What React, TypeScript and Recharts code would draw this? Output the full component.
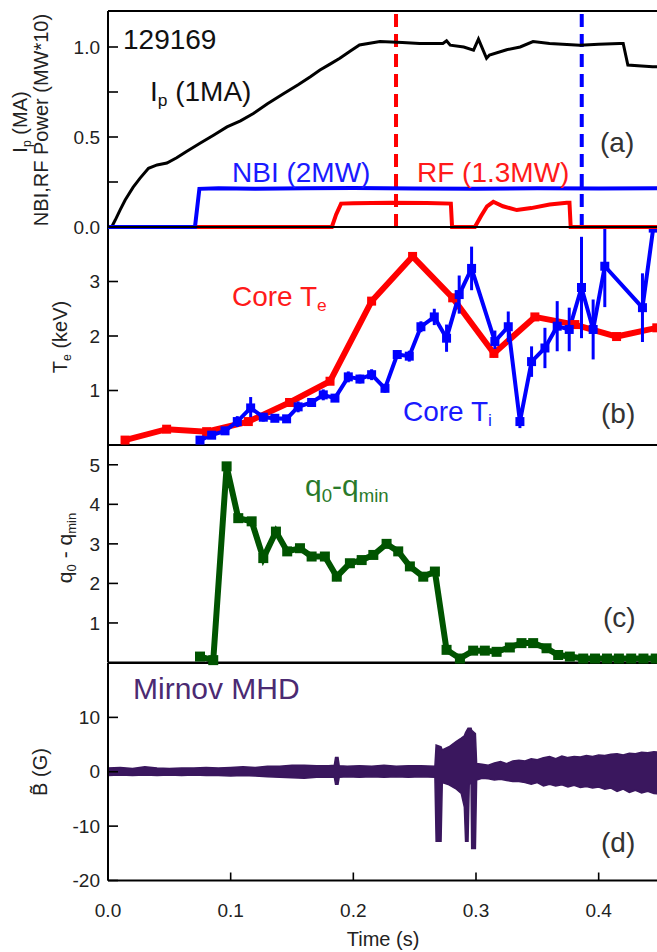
import React from 'react';
import { ComposedChart, Line, Area, XAxis, YAxis, ReferenceLine, ErrorBar } from 'recharts';

const FONT = '"Liberation Sans", Arial, Helvetica, sans-serif';

// ---------- Panel (a): plasma current and heating power ----------
const ipTime = [0.0, 0.003, 0.006, 0.0098, 0.014, 0.0204, 0.026, 0.033, 0.04, 0.048, 0.056, 0.064, 0.075, 0.086, 0.097, 0.108, 0.1185, 0.13, 0.143, 0.155, 0.165, 0.1728, 0.181, 0.189, 0.197, 0.205, 0.2217, 0.24, 0.254, 0.273, 0.276, 0.279, 0.29, 0.298, 0.302, 0.3086, 0.311, 0.325, 0.336, 0.3465, 0.36, 0.3847, 0.4, 0.417, 0.42, 0.4238, 0.435, 0.444, 0.45];
const ipValue = [0.0, 0.0, 0.04, 0.094, 0.15, 0.22, 0.27, 0.326, 0.345, 0.355, 0.385, 0.42, 0.465, 0.51, 0.556, 0.59, 0.63, 0.685, 0.74, 0.79, 0.835, 0.872, 0.905, 0.937, 0.975, 1.011, 1.03, 1.025, 1.02, 1.02, 1.035, 1.01, 1.0, 0.983, 1.044, 0.937, 0.955, 0.985, 1.0, 1.03, 1.02, 1.01, 1.015, 1.02, 1.02, 0.9, 0.895, 0.89, 0.89];

const nbiTime = [0.0, 0.0709, 0.0745, 0.09, 0.12, 0.16, 0.2, 0.25, 0.3, 0.35, 0.4, 0.45];
const nbiValue = [0.0, 0.0, 0.212, 0.215, 0.213, 0.215, 0.216, 0.214, 0.213, 0.215, 0.214, 0.215];

const rfTime = [0.0, 0.1825, 0.186, 0.19, 0.2, 0.23, 0.26, 0.2795, 0.2805, 0.2991, 0.304, 0.309, 0.3141, 0.322, 0.3333, 0.345, 0.36, 0.374, 0.3762, 0.3772, 0.45];
const rfValue = [0.0, 0.0, 0.07, 0.13, 0.132, 0.135, 0.133, 0.13, 0.0, 0.0, 0.06, 0.115, 0.14, 0.115, 0.094, 0.105, 0.125, 0.135, 0.135, 0.0, 0.0];

const rfMarkTime = 0.2348;
const nbiMarkTime = 0.3862;

// ---------- Panel (b): core temperatures ----------
const teTime = [0.0139, 0.0478, 0.0804, 0.1144, 0.148, 0.181, 0.2149, 0.2483, 0.281, 0.3146, 0.348, 0.3806, 0.4146, 0.4474];
const teValue = [0.09, 0.29, 0.245, 0.43, 0.78, 1.17, 2.64, 3.46, 2.7, 1.68, 2.35, 2.21, 1.99, 2.15];

const tiTime = [0.075, 0.0845, 0.0954, 0.1054, 0.1163, 0.1266, 0.136, 0.1456, 0.155, 0.166, 0.1755, 0.185, 0.1959, 0.2054, 0.2149, 0.2258, 0.2358, 0.2456, 0.2551, 0.266, 0.276, 0.2863, 0.2964, 0.3154, 0.3263, 0.3358, 0.3453, 0.3562, 0.3662, 0.376, 0.386, 0.3955, 0.405, 0.4357, 0.4445];
const tiValue = [0.09, 0.18, 0.26, 0.43, 0.68, 0.51, 0.49, 0.48, 0.7, 0.78, 0.92, 0.86, 1.25, 1.21, 1.29, 1.04, 1.66, 1.63, 2.17, 2.35, 1.96, 2.76, 3.24, 1.9, 2.17, 0.43, 1.53, 1.78, 2.18, 2.12, 2.89, 2.12, 3.28, 2.52, 3.98];
const tiError = [0.05, 0.05, 0.06, 0.1, 0.2, 0.08, 0.06, 0.06, 0.1, 0.08, 0.1, 0.06, 0.1, 0.08, 0.1, 0.08, 0.08, 0.1, 0.1, 0.15, 0.25, 0.35, 0.4, 0.2, 0.28, 0.12, 0.28, 0.37, 0.46, 0.4, 0.93, 0.55, 0.75, 0.63, 0];

// ---------- Panel (c): q0 - qmin ----------
const qTime = [0.075, 0.0858, 0.0967, 0.1062, 0.1171, 0.1266, 0.1369, 0.1461, 0.1565, 0.166, 0.1768, 0.1865, 0.1972, 0.2068, 0.2163, 0.2271, 0.2366, 0.2461, 0.257, 0.2665, 0.276, 0.2869, 0.2977, 0.3072, 0.3168, 0.3276, 0.3371, 0.3466, 0.3575, 0.367, 0.3765, 0.3874, 0.397, 0.4068, 0.4165, 0.4265, 0.4365, 0.4465];
const qValue = [0.15, 0.06, 4.96, 3.65, 3.57, 2.64, 3.31, 2.81, 2.89, 2.68, 2.68, 2.17, 2.51, 2.59, 2.72, 3.0, 2.81, 2.43, 2.17, 2.3, 0.32, 0.1, 0.3, 0.3, 0.27, 0.38, 0.49, 0.49, 0.36, 0.19, 0.15, 0.1, 0.1, 0.1, 0.1, 0.1, 0.1, 0.1];

// ---------- Panel (d): Mirnov MHD envelope ----------
const mhdTime = [0.0, 0.01, 0.02, 0.03, 0.04, 0.05, 0.06, 0.07, 0.08, 0.09, 0.1, 0.11, 0.12, 0.13, 0.14, 0.15, 0.16, 0.17, 0.18, 0.1845, 0.1855, 0.1875, 0.1885, 0.195, 0.205, 0.215, 0.225, 0.235, 0.245, 0.255, 0.2665, 0.2675, 0.2715, 0.2725, 0.278, 0.284, 0.288, 0.2905, 0.2915, 0.2935, 0.2945, 0.296, 0.2965, 0.2995, 0.3005, 0.305, 0.31, 0.315, 0.32, 0.325, 0.33, 0.335, 0.34, 0.345, 0.35, 0.355, 0.36, 0.365, 0.37, 0.375, 0.38, 0.385, 0.39, 0.395, 0.4, 0.405, 0.41, 0.415, 0.42, 0.425, 0.43, 0.435, 0.44, 0.445, 0.45];
const mhdLow = [-0.7, -0.6, -0.7, -0.6, -0.7, -0.6, -0.7, -0.6, -0.7, -0.7, -0.8, -0.7, -0.8, -0.9, -1.0, -1.1, -1.2, -1.0, -1.0, -1.0, -2.3, -2.3, -1.0, -0.9, -1.0, -0.9, -1.0, -0.9, -1.0, -0.9, -1.0, -12.8, -12.8, -2.0, -2.4, -3.2, -4.0, -6.5, -12.8, -12.8, -2.2, -2.2, -14.1, -14.1, -1.5, -1.2, -1.3, -1.5, -1.4, -1.6, -1.8, -1.8, -2.0, -2.3, -2.0, -2.6, -2.3, -2.6, -2.4, -2.8, -2.5, -2.9, -2.7, -3.0, -2.8, -3.2, -3.0, -3.6, -3.2, -3.8, -3.4, -3.9, -3.6, -4.0, -4.1];
const mhdHigh = [0.7, 0.8, 0.6, 0.9, 0.7, 0.6, 0.7, 0.7, 0.8, 0.7, 0.8, 0.9, 0.8, 1.0, 1.0, 1.2, 1.2, 1.1, 1.1, 1.2, 2.6, 2.6, 1.1, 1.0, 1.1, 1.0, 1.2, 1.0, 1.1, 1.1, 1.0, 4.9, 4.6, 4.0, 4.6, 5.6, 6.2, 6.6, 7.2, 8.0, 8.0, 8.0, 7.6, 7.0, 1.5, 1.4, 1.2, 1.6, 1.9, 1.5, 2.0, 2.1, 2.0, 2.4, 2.2, 2.6, 2.8, 2.4, 2.9, 2.6, 2.8, 2.7, 3.0, 2.8, 3.1, 3.0, 3.2, 3.3, 3.1, 3.4, 3.3, 3.6, 3.5, 3.7, 3.6];

// ---------- axes ----------
const xTicks = [0.0, 0.1, 0.2, 0.3, 0.4];
const aTicks = [0, 0.25, 0.5, 0.75, 1.0];
const aLabeled = [0, 0.5, 1.0];
const bTicks = [1, 2, 3];
const cTicks = [1, 2, 3, 4, 5];
const dTicks = [-20, -10, 0, 10];

const ipData = ipTime.map((t, i) => ({ t, v: ipValue[i] }));
const nbiData = nbiTime.map((t, i) => ({ t, v: nbiValue[i] }));
const rfData = rfTime.map((t, i) => ({ t, v: rfValue[i] }));
const teData = teTime.map((t, i) => ({ t, v: teValue[i] }));
const tiData = tiTime.map((t, i) => ({ t, v: tiValue[i], e: tiError[i] }));
const qData = qTime.map((t, i) => ({ t, v: qValue[i] }));
const mhdData = mhdTime.map((t, i) => ({ t, b: [mhdLow[i], mhdHigh[i]] }));

const tickStyle = { fill: '#222', fontSize: 19, fontFamily: FONT };
const axisLineStyle = { stroke: '#000', strokeWidth: 2 };
const tickLineStyle = { stroke: '#000', strokeWidth: 1.6 };

const squareDot = (color: string, s: number) => (props: any) => {
  const { cx, cy, index } = props;
  if (cx == null || cy == null || isNaN(cx) || isNaN(cy)) return <g key={`n${index}`} />;
  return <rect key={`d${index}`} x={cx - s / 2} y={cy - s / 2} width={s} height={s} fill={color} />;
};

type PanelProps = {
  top: number;
  plotH: number;
  domain: [number, number];
  ticks: number[];
  fmt: (v: number) => string;
  overflow?: boolean;
  xLabels?: boolean;
  children: React.ReactNode;
};

function Panel({ top, plotH, domain, ticks, fmt, overflow, xLabels, children }: PanelProps) {
  const mt = 15;
  const mb = xLabels ? 70 : 15;
  const height = plotH + mt + mb + 2;
  return (
    <div style={{ position: 'absolute', left: 0, top: top - mt - 1 }}>
      <ComposedChart width={700} height={height} margin={{ top: mt, right: 39, bottom: mb, left: 107 }}>
        <XAxis
          xAxisId="b"
          type="number"
          dataKey="t"
          domain={[0, 0.45]}
          allowDataOverflow
          ticks={xLabels ? xTicks : xTicks.slice(1)}
          interval={0}
          height={1}
          tickSize={-8}
          tickMargin={31}
          tick={xLabels ? tickStyle : false}
          tickFormatter={(v: number) => v.toFixed(1)}
          axisLine={axisLineStyle}
          tickLine={tickLineStyle}
        />
        <XAxis
          xAxisId="t"
          orientation="top"
          type="number"
          dataKey="t"
          domain={[0, 0.45]}
          allowDataOverflow
          ticks={xTicks.slice(1)}
          interval={0}
          height={1}
          tickSize={-8}
          tick={false}
          axisLine={axisLineStyle}
          tickLine={tickLineStyle}
        />
        <YAxis
          yAxisId="l"
          type="number"
          domain={domain}
          allowDataOverflow={!!overflow}
          ticks={ticks}
          interval={0}
          width={1}
          tickSize={-10}
          tickMargin={18}
          tick={tickStyle}
          tickFormatter={fmt}
          axisLine={axisLineStyle}
          tickLine={tickLineStyle}
        />
        <YAxis
          yAxisId="r"
          orientation="right"
          type="number"
          domain={domain}
          allowDataOverflow
          ticks={ticks}
          interval={0}
          width={1}
          tickSize={-10}
          tick={false}
          axisLine={false}
          tickLine={tickLineStyle}
        />
        {children}
      </ComposedChart>
    </div>
  );
}

const Sub = ({ children }: { children: React.ReactNode }) => (
  <span style={{ fontSize: '0.62em', position: 'relative', top: '0.3em' }}>{children}</span>
);

const Txt = ({ x, y, size, color, children, anchor = 'start' }: any) => (
  <div
    style={{
      position: 'absolute',
      left: x,
      top: y,
      transform: `translate(${anchor === 'middle' ? '-50%' : anchor === 'end' ? '-100%' : '0'}, -50%)`,
      fontSize: size,
      color,
      fontFamily: FONT,
      lineHeight: 1,
      whiteSpace: 'nowrap',
    }}
  >
    {children}
  </div>
);

const VTxt = ({ x, y, size, color = '#222', children }: any) => (
  <div
    style={{
      position: 'absolute',
      left: x,
      top: y,
      transform: 'translate(-50%, -50%) rotate(-90deg)',
      fontSize: size,
      color,
      fontFamily: FONT,
      lineHeight: 1,
      whiteSpace: 'nowrap',
    }}
  >
    {children}
  </div>
);

export default function App() {
  return (
    <div style={{ position: 'absolute', left: 0, top: 0, width: 657, height: 952, overflow: 'hidden', background: '#fff' }}>
      <Panel top={662.5} plotH={217.5} domain={[-20, 20]} ticks={dTicks} fmt={(v) => String(v)} xLabels>
        <Area
          xAxisId="b"
          yAxisId="l"
          data={mhdData}
          dataKey="b"
          type="linear"
          stroke="#3a175e"
          strokeWidth={1.5}
          fill="#3a175e"
          fillOpacity={1}
          dot={false}
          activeDot={false}
          isAnimationActive={false}
        />
      </Panel>
      <Panel top={445} plotH={217.5} domain={[0, 5.5]} ticks={cTicks} fmt={(v) => String(v)}>
        <Line
          xAxisId="b"
          yAxisId="l"
          data={qData}
          dataKey="v"
          stroke="#005400"
          strokeWidth={6}
          dot={squareDot('#005400', 10)}
          activeDot={false}
          isAnimationActive={false}
        />
      </Panel>
      <Panel top={227} plotH={218} domain={[0, 4]} ticks={bTicks} fmt={(v) => String(v)} overflow>
        <Line
          xAxisId="b"
          yAxisId="l"
          data={teData}
          dataKey="v"
          stroke="#ff0000"
          strokeWidth={6}
          dot={squareDot('#ff0000', 9)}
          activeDot={false}
          isAnimationActive={false}
        />
        <Line
          xAxisId="b"
          yAxisId="l"
          data={tiData}
          dataKey="v"
          stroke="#0000ff"
          strokeWidth={4}
          dot={squareDot('#0000ff', 9)}
          activeDot={false}
          isAnimationActive={false}
        >
          <ErrorBar dataKey="e" width={0} strokeWidth={3} stroke="#0000ff" direction="y" />
        </Line>
      </Panel>
      <Panel
        top={11}
        plotH={216}
        domain={[0, 1.2]}
        ticks={aTicks}
        fmt={(v) => (aLabeled.includes(v) ? v.toFixed(1) : '')}
      >
        <ReferenceLine xAxisId="b" yAxisId="l" x={rfMarkTime} stroke="#ff0000" strokeWidth={4} strokeDasharray="13 7" />
        <ReferenceLine xAxisId="b" yAxisId="l" x={nbiMarkTime} stroke="#0000ff" strokeWidth={4} strokeDasharray="13 7" />
        <Line xAxisId="b" yAxisId="l" data={ipData} dataKey="v" stroke="#000" strokeWidth={3} dot={false} activeDot={false} isAnimationActive={false} />
        <Line xAxisId="b" yAxisId="l" data={rfData} dataKey="v" stroke="#ff0000" strokeWidth={4} dot={false} activeDot={false} isAnimationActive={false} />
        <Line xAxisId="b" yAxisId="l" data={nbiData} dataKey="v" stroke="#0000ff" strokeWidth={4} dot={false} activeDot={false} isAnimationActive={false} />
      </Panel>

      {/* annotations */}
      <Txt x={123} y={40} size={28} color="#111">129169</Txt>
      <Txt x={150} y={92} size={28} color="#111">
        I<Sub>p</Sub> (1MA)
      </Txt>
      <Txt x={600} y={143} size={28} color="#333">(a)</Txt>
      <Txt x={232} y={173} size={28} color="#1a1aff">NBI (2MW)</Txt>
      <Txt x={417} y={173} size={28} color="#ff1a1a">RF (1.3MW)</Txt>

      <Txt x={232} y={297} size={28} color="#ff1a1a">
        Core T<Sub>e</Sub>
      </Txt>
      <Txt x={403} y={412} size={28} color="#1a1aff">
        Core T<Sub>i</Sub>
      </Txt>
      <Txt x={601} y={414} size={28} color="#333">(b)</Txt>

      <Txt x={305} y={486} size={30} color="#2a7a2a">
        q<Sub>0</Sub>-q<Sub>min</Sub>
      </Txt>
      <Txt x={603} y={618} size={28} color="#333">(c)</Txt>

      <Txt x={133} y={689} size={30} color="#4b2a72">Mirnov MHD</Txt>
      <Txt x={601} y={843} size={28} color="#333">(d)</Txt>

      {/* axis titles */}
      <VTxt x={20} y={122} size={20}>
        I<Sub>p</Sub> (MA)
      </VTxt>
      <VTxt x={41} y={120} size={20}>NBI,RF Power (MW*10)</VTxt>
      <VTxt x={60} y={337} size={20}>
        T<Sub>e</Sub> (keV)
      </VTxt>
      <VTxt x={64} y={548} size={21}>
        q<Sub>0</Sub> - q<Sub>min</Sub>
      </VTxt>
      <VTxt x={40} y={772} size={20}>B&#771; (G)</VTxt>
      <Txt x={383} y={939} size={20} color="#222" anchor="middle">Time (s)</Txt>
    </div>
  );
}
